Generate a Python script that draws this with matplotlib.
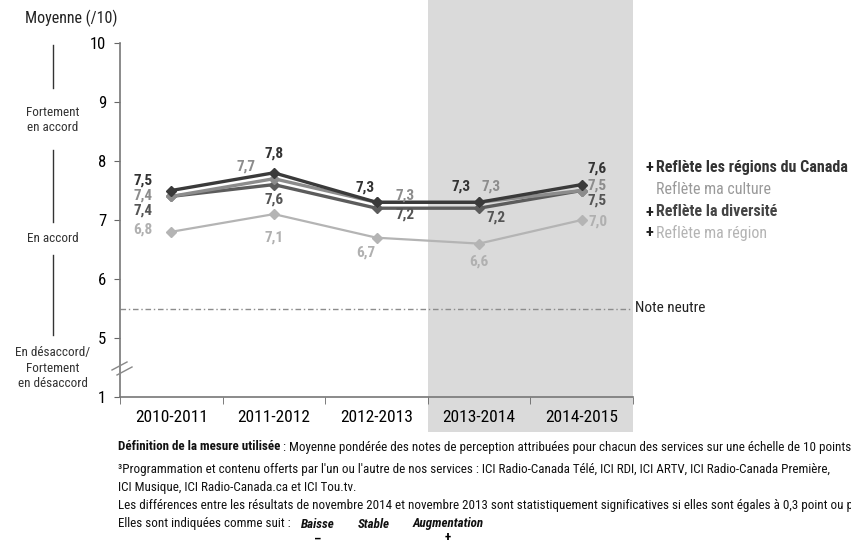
import matplotlib
matplotlib.use("Agg")
import matplotlib.pyplot as plt
from matplotlib.patches import Rectangle
from matplotlib.lines import Line2D

# Survey periods and mean scores (/10)
periods = ["2010-2011", "2011-2012", "2012-2013", "2013-2014", "2014-2015"]
regions_canada = [7.5, 7.8, 7.3, 7.3, 7.6]
ma_culture = [7.4, 7.7, 7.3, 7.3, 7.5]
diversite = [7.4, 7.6, 7.2, 7.2, 7.5]
ma_region = [6.8, 7.1, 6.7, 6.6, 7.0]

series_names = ["Reflète les régions du Canada", "Reflète ma culture",
                "Reflète la diversité", "Reflète ma région"]
series_signs = ["+", "", "+", "+"]
neutral_score = 5.5

plt.rcParams["font.family"] = ["Roboto Condensed", "DejaVu Sans"]

W, H = 851, 545
fig = plt.figure(figsize=(W / 100, H / 100), dpi=100)


def fx(x):
    return x / W


def fy(y):
    return 1 - y / H


ax = fig.add_axes([fx(120), fy(397), fx(633) - fx(120), fy(43) - fy(397)])
ax.patch.set_alpha(0)

# shaded band for the two most recent periods
fig.patches.append(Rectangle((fx(428), fy(432)), fx(633) - fx(428), fy(0) - fy(432),
                             transform=fig.transFigure, facecolor="#dadada",
                             edgecolor="none", zorder=-5))

x = list(range(len(periods)))
colors = ["#3a3a3a", "#8c8c8c", "#5c5c5c", "#b4b4b4"]
data = [regions_canada, ma_culture, diversite, ma_region]
widths = [2.4, 2.4, 2.4, 1.6]
for vals, c, lw in zip(data[::-1], colors[::-1], widths[::-1]):
    ax.plot(x, vals, color=c, lw=lw, marker="D", ms=5.5, mec=c, mfc=c, zorder=3)

# value labels, offsets in pixels from each point
offsets = [
    [(-28, 10), (0, 19), (-11, 15), (-18, 16), (15, 16)],
    [(-28, 1), (-28, 12), (29, 7), (12, 16), (15, 5)],
    [(-28, -14), (0, -15), (29, -6), (17, -9), (15, -10)],
    [(-28, 2), (0, -23), (-11, -15), (0, -18), (16, -2)],
]
label_colors = ["#333333", "#8c8c8c", "#555555", "#b0b0b0"]
for vals, offs, c in zip(data, offsets, label_colors):
    for xi, v, (dx, dy) in zip(x, vals, offs):
        ax.annotate(f"{v:.1f}".replace(".", ","), (xi, v), xytext=(dx, dy),
                    textcoords="offset pixels", ha="center", va="center",
                    fontsize=11, fontweight="bold", color=c, zorder=4)

# neutral score reference
ax.axhline(neutral_score, color="#8c8c8c", lw=1, ls=(0, (4, 2, 1, 2)), zorder=2)
ax.text(1.003, neutral_score, "Note neutre", transform=ax.get_yaxis_transform(),
        ha="left", va="center", fontsize=11, color="#222222")

ax.set_xlim(-0.5, 4.5)
ax.set_ylim(4, 10)
ax.set_yticks([4, 5, 6, 7, 8, 9, 10])
ax.set_yticklabels(["1", "5", "6", "7", "8", "9", "10"], fontsize=12)
ax.set_xticks(x)
ax.set_xticklabels(periods, fontsize=12.5)
ax.set_xticks([i - 0.5 for i in range(len(periods) + 1)], minor=True)
ax.tick_params(axis="x", which="major", length=0, pad=9)
ax.tick_params(axis="x", which="minor", length=5, color="#666666", direction="out")
ax.tick_params(axis="y", length=4, color="#666666", pad=6)
for s in ["top", "right"]:
    ax.spines[s].set_visible(False)
for s in ["left", "bottom"]:
    ax.spines[s].set_color("#777777")
    ax.spines[s].set_linewidth(1.2)

# axis break marks
for (x0, y0, x1, y1) in [(112, 370, 127, 362), (117, 375, 132, 367)]:
    fig.add_artist(Line2D([fx(x0), fx(x1)], [fy(y0), fy(y1)], transform=fig.transFigure,
                          color="#888888", lw=1))

# left-hand scale description
fig.text(fx(25), fy(18), "Moyenne (/10)", fontsize=11.5, va="center", ha="left", color="#222222")
for (y0, y1) in [(45, 88), (150, 222), (255, 335)]:
    fig.add_artist(Line2D([fx(53), fx(53)], [fy(y0), fy(y1)], transform=fig.transFigure,
                          color="#333333", lw=1))
fig.text(fx(53), fy(120), "Fortement\nen accord", fontsize=9.5, ha="center", va="center",
         color="#333333", linespacing=1.25)
fig.text(fx(53), fy(238), "En accord", fontsize=9.5, ha="center", va="center", color="#333333")
fig.text(fx(53), fy(368), "En désaccord/\nFortement\nen désaccord", fontsize=9.5,
         ha="center", va="center", color="#333333", linespacing=1.25)

# series legend
legend_y = [167, 189, 212, 233]
legend_colors = ["#333333", "#9a9a9a", "#444444", "#b4b4b4"]
legend_weights = ["bold", "normal", "bold", "normal"]
for name, sign, ly, c, wgt in zip(series_names, series_signs, legend_y, legend_colors,
                                  legend_weights):
    if sign:
        fig.text(fx(645), fy(ly), sign, fontsize=12, fontweight="bold", color="#222222",
                 va="center", ha="left")
    fig.text(fx(656), fy(ly), name, fontsize=11.5, fontweight=wgt, color=c,
             va="center", ha="left")

# footnotes
fs = 9.4
renderer = fig.canvas.get_renderer()
t = fig.text(fx(118), fy(447), "Définition de la mesure utilisée", fontsize=fs,
             fontweight="bold", va="center", ha="left", color="#111111")
bb = t.get_window_extent(renderer)
fig.text(bb.x1 / W, fy(447), " : Moyenne pondérée des notes de perception attribuées pour chacun "
         "des services sur une échelle de 10 points", fontsize=fs, va="center", ha="left",
         color="#111111")
fig.text(fx(118), fy(470), "³Programmation et contenu offerts par l'un ou l'autre de nos services : "
         "ICI Radio-Canada Télé, ICI RDI, ICI ARTV, ICI Radio-Canada Première,",
         fontsize=fs, va="center", ha="left", color="#111111")
fig.text(fx(118), fy(488), "ICI Musique, ICI Radio-Canada.ca et ICI Tou.tv.",
         fontsize=fs, va="center", ha="left", color="#111111")
fig.text(fx(118), fy(506), "Les différences entre les résultats de novembre 2014 et novembre 2013 "
         "sont statistiquement significatives si elles sont égales à 0,3 point ou plus.",
         fontsize=fs, va="center", ha="left", color="#111111")
fig.text(fx(118), fy(524), "Elles sont indiquées comme suit :",
         fontsize=fs, va="center", ha="left", color="#111111")
for word, wx in [("Baisse", 301), ("Stable", 358), ("Augmentation", 413)]:
    fig.text(fx(wx), fy(524), word, fontsize=fs, fontweight="bold", fontstyle="italic",
             va="center", ha="left", color="#111111")
fig.text(fx(318), fy(539), "–", fontsize=fs, fontweight="bold", ha="center", va="center")
fig.text(fx(448), fy(537), "+", fontsize=fs, fontweight="bold", ha="center", va="center")

fig.savefig("out.png", dpi=100)
